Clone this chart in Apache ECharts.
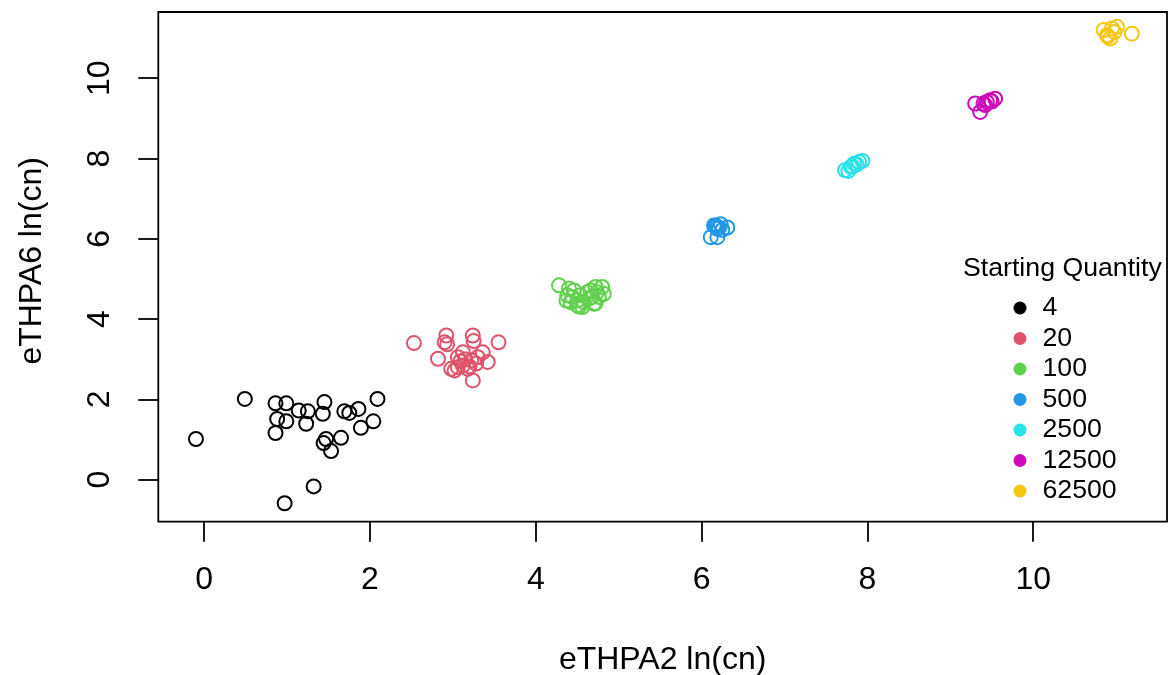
<!DOCTYPE html>
<html>
<head>
<meta charset="utf-8">
<script src="https://cdn.jsdelivr.net/npm/echarts@6/dist/echarts.min.js"></script>
<style>html,body{margin:0;padding:0;background:#fff}#c{width:1169px;height:675px}</style>
</head>
<body>
<div id="c"></div>
<script>
const groupNames = ['4','20','100','500','2500','12500','62500'];
const groupColors = ['#000000','#DF536B','#61D04F','#2297E6','#28E2E5','#CD0BBC','#F5C710'];
const xTicks = [0,2,4,6,8,10];
const yTicks = [0,2,4,6,8,10];

const x4 = [-0.10,0.49,0.86,0.99,1.14,1.25,1.45,1.43,0.88,0.99,1.23,0.86,1.69,1.75,1.86,2.09,2.04,1.89,1.65,1.47,1.44,1.53,1.32,0.97];
const y4 = [1.01,2.01,1.90,1.90,1.72,1.70,1.93,1.64,1.51,1.45,1.39,1.16,1.70,1.66,1.76,2.01,1.45,1.29,1.04,1.01,0.91,0.71,-0.17,-0.59];

const x20 = [2.53,2.92,2.90,2.93,3.24,3.25,3.55,2.82,3.12,3.06,3.36,3.42,2.98,3.06,3.12,3.22,3.28,3.30,3.18,3.24,3.02,3.15,3.09,3.20];
const y20 = [3.40,3.59,3.42,3.37,3.59,3.45,3.42,3.01,3.17,3.05,3.17,2.93,2.76,2.80,2.84,2.97,2.89,3.05,2.76,2.47,2.72,3.00,2.95,2.82];

const x100 = [4.28,4.40,4.38,4.42,4.50,4.58,4.54,4.66,4.72,4.80,4.82,4.76,4.70,4.64,4.46,4.62,4.50,4.74,4.44,4.68,4.56,4.37,4.52,4.72];
const y100 = [4.84,4.76,4.59,4.42,4.34,4.42,4.59,4.71,4.80,4.80,4.63,4.55,4.38,4.51,4.71,4.67,4.46,4.67,4.55,4.55,4.30,4.46,4.31,4.39];

const x500 = [6.17,6.23,6.31,6.19,6.11,6.19,6.25,6.15,6.18,6.21];
const y500 = [6.33,6.36,6.28,6.25,6.04,6.04,6.22,6.33,6.30,6.27];

const x2500 = [7.73,7.77,7.80,7.84,7.90,7.94,7.87,7.82];
const y2500 = [7.71,7.69,7.79,7.87,7.91,7.94,7.85,7.80];

const x12500 = [9.30,9.36,9.40,9.44,9.48,9.54,9.42,9.50];
const y12500 = [9.37,9.16,9.37,9.41,9.45,9.49,9.33,9.42];

const x62500 = [10.85,10.89,10.95,11.01,10.93,11.19,10.98,10.90];
const y62500 = [11.20,11.07,11.24,11.28,10.99,11.11,11.15,11.04];

const xs = [x4,x20,x100,x500,x2500,x12500,x62500];
const ys = [y4,y20,y100,y500,y2500,y12500,y62500];

const FONT = '"Liberation Sans", Arial, Helvetica, sans-serif';

const series = groupNames.map((n,i)=>({
  name: n,
  type: 'scatter',
  symbol: 'circle',
  symbolSize: 14,
  data: xs[i].map((v,k)=>[v, ys[i][k]]),
  itemStyle: { color: 'rgba(0,0,0,0)', borderColor: groupColors[i], borderWidth: 2, opacity: 1 },
  emphasis: { disabled: true },
  silent: true,
  animation: false
}));

const chart = echarts.init(document.getElementById('c'), null, {renderer:'canvas'});
chart.setOption({
  animation: false,
  backgroundColor: '#ffffff',
  grid: { left: 158.3, right: 2, top: 12, bottom: 153.3, show: true, borderColor: '#000', borderWidth: 1.8, backgroundColor: 'transparent', outerBoundsMode: 'none', containLabel: false },
  xAxis: {
    type: 'value', min: -0.554, max: 11.614,
    name: 'eTHPA2 ln(cn)', nameLocation: 'middle', nameGap: 122,
    nameTextStyle: { fontFamily: FONT, fontSize: 32, color: '#000', verticalAlign: 'top' },
    axisLine: { show: false, onZero: false },
    splitLine: { show: false },
    axisTick: { show: true, inside: false, length: 20, lineStyle: { color: '#000', width: 1.8 }, customValues: xTicks },
    axisLabel: { show: true, margin: 42, fontFamily: FONT, fontSize: 32, color: '#000', customValues: xTicks, formatter: v => String(v) }
  },
  yAxis: {
    type: 'value', min: -1.05, max: 11.65,
    name: 'eTHPA6 ln(cn)', nameLocation: 'middle', nameGap: 110,
    nameRotate: 90,
    nameTextStyle: { fontFamily: FONT, fontSize: 32, color: '#000', padding: [0, 0, 0, 12] },
    axisLine: { show: false, onZero: false },
    splitLine: { show: false },
    axisTick: { show: true, inside: false, length: 20, lineStyle: { color: '#000', width: 1.8 }, customValues: yTicks },
    axisLabel: { show: true, rotate: 90, margin: 42, fontFamily: FONT, fontSize: 32, color: '#000', customValues: yTicks, formatter: v => String(v) }
  },
  legend: {
    orient: 'vertical', left: 1013.5, top: 294.5, padding: 0,
    itemWidth: 13, itemHeight: 13, itemGap: 3.5,
    selectedMode: false,
    textStyle: { fontFamily: FONT, fontSize: 26.7, color: '#000', lineHeight: 27, padding: [0,0,0,11] },
    data: groupNames.map((n,i)=>({ name: n, icon: 'circle', itemStyle: { color: groupColors[i], borderWidth: 0 } }))
  },
  graphic: [{
    type: 'text', left: 963, top: 255,
    style: { text: 'Starting Quantity', fontFamily: FONT, fontSize: 26.7, fill: '#000' }
  }],
  series: series
});
</script>
</body>
</html>
